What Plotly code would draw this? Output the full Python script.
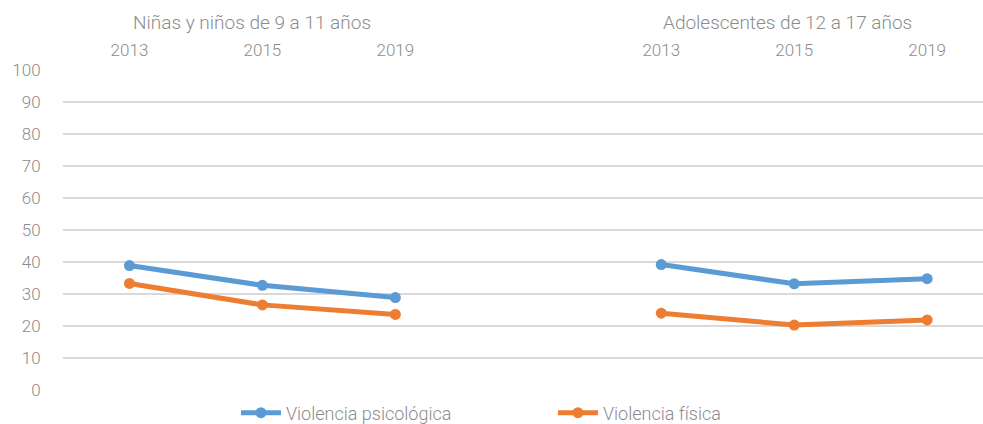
import plotly.graph_objects as go

# Data
group_labels = ["Niñas y niños de 9 a 11 años", "Adolescentes de 12 a 17 años"]
years = ["2013", "2015", "2019"]
# category slots: group 1 years, empty slot, group 2 years
categories = ["2013", "2015", "2019", "", "2013", "2015", "2019"]
psico_g1 = [38.9, 32.7, 28.9]
psico_g2 = [39.2, 33.2, 34.8]
fisica_g1 = [33.3, 26.6, 23.6]
fisica_g2 = [24.0, 20.3, 21.9]

x_g1 = [0, 1, 2]
x_g2 = [4, 5, 6]

BLUE = "#5B9BD5"
ORANGE = "#ED7D31"
TXT = "#8c8c8c"
FONT = "Roboto"
FS = 17
W = 300

fig = go.Figure()
for name, g1, g2, color in [
    ("Violencia psicológica", psico_g1, psico_g2, BLUE),
    ("Violencia física", fisica_g1, fisica_g2, ORANGE),
]:
    fig.add_trace(go.Scatter(x=x_g1, y=g1, mode="lines+markers", name=name,
                             legendgroup=name,
                             line=dict(color=color, width=5),
                             marker=dict(color=color, size=11)))
    fig.add_trace(go.Scatter(x=x_g2, y=g2, mode="lines+markers", name=name,
                             legendgroup=name, showlegend=False,
                             line=dict(color=color, width=5),
                             marker=dict(color=color, size=11)))

fig.update_layout(
    width=983, height=424,
    margin=dict(l=63, r=0, t=70, b=34, autoexpand=False),
    plot_bgcolor="white", paper_bgcolor="white",
    font=dict(family=FONT, size=FS, color=TXT, weight=W),
    showlegend=True,
    legend=dict(orientation="h", x=0.188, xanchor="left",
                yref="container", y=0.026, yanchor="middle",
                entrywidth=262, entrywidthmode="pixels",
                font=dict(family=FONT, size=18, color=TXT, weight=W),
                itemwidth=40, tracegroupgap=0),
    xaxis=dict(side="top", range=[-0.5, 6.42], showgrid=False, zeroline=False,
               showline=False, automargin=False,
               tickmode="array", tickvals=x_g1 + x_g2, ticktext=years + years,
               ticks="outside", ticklen=6, tickcolor="white",
               tickfont=dict(family=FONT, size=FS, color=TXT, weight=W)),
    yaxis=dict(range=[0, 100], tickmode="array", tickvals=list(range(0, 101, 10)),
               showgrid=True, gridcolor="#d9d9d9", gridwidth=1.5,
               zeroline=True, zerolinecolor="white", showline=False,
               automargin=False,
               ticks="outside", ticklen=18, tickcolor="white",
               tickfont=dict(family=FONT, size=FS, color=TXT, weight=W)),
)

for gx, lab in zip([0.92, 4.95], group_labels):
    fig.add_annotation(x=gx, y=1.15, xref="x", yref="paper", text=lab,
                       showarrow=False, xanchor="center", yanchor="middle",
                       font=dict(family=FONT, size=19, color=TXT, weight=W))

fig.write_html("out.html", config={"displayModeBar": False},
               post_script="document.body.style.margin='0';document.body.style.overflow='hidden';")
